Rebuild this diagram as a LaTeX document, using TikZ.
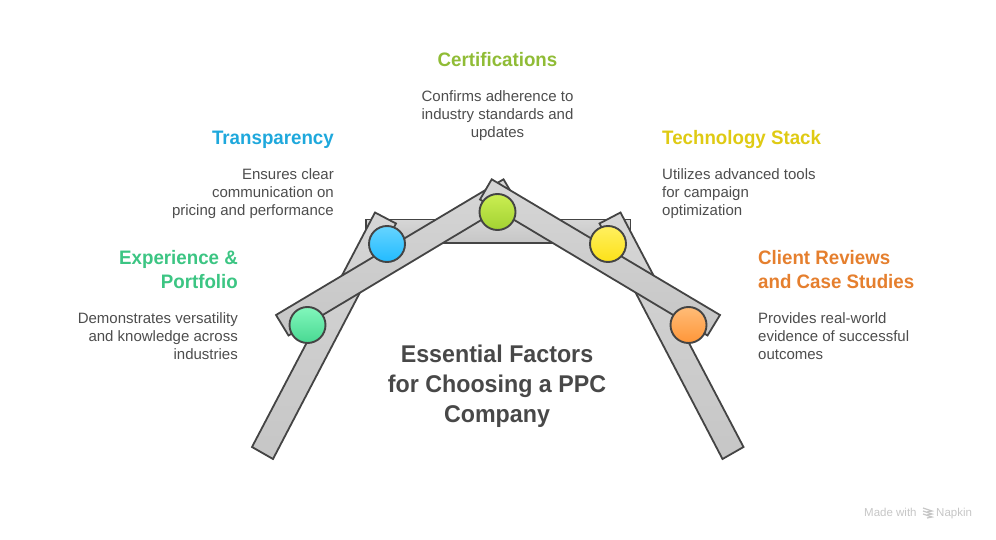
\documentclass[tikz,border=0pt]{standalone}
\usepackage{fontspec}
\setmainfont[BoldFeatures={FakeStretch=0.96}]{Liberation Sans}
\usepackage{tikz}
\usetikzlibrary{positioning}
\definecolor{edgegray}{HTML}{444444}
\definecolor{bartop}{HTML}{D6D6D6}
\definecolor{barbottom}{HTML}{C6C6C6}
\definecolor{bodygray}{HTML}{4D4D4D}
\definecolor{titlegray}{HTML}{484848}
\definecolor{markgray}{HTML}{C6C6C6}
\definecolor{expgreen}{HTML}{3CC583}
\definecolor{transblue}{HTML}{1EA8DC}
\definecolor{certlime}{HTML}{90BC36}
\definecolor{techyellow}{HTML}{DFCA13}
\definecolor{clientorange}{HTML}{E57F2E}
\tikzset{
  bar/.style={draw=edgegray, line width=1.8pt, line join=miter, top color=bartop, bottom color=barbottom},
  ball/.style 2 args={circle, draw=edgegray, line width=1.9pt, minimum size=36pt, inner sep=0pt, top color=#1, bottom color=#2},
  head/.style={inner sep=0pt, font=\fontsize{19.5}{24}\bfseries\selectfont},
  desc/.style={inner sep=0pt, text=bodygray, font=\fontsize{15}{18}\selectfont},
  madeby/.style={inner sep=0pt, text=markgray, font=\fontsize{11.5}{13}\selectfont}
}
\definecolor{expa}{HTML}{82F7BC}
\definecolor{expb}{HTML}{48D892}
\definecolor{transa}{HTML}{66D4FF}
\definecolor{transb}{HTML}{22BBFF}
\definecolor{certa}{HTML}{CBEE52}
\definecolor{certb}{HTML}{A2D232}
\definecolor{techa}{HTML}{FFF060}
\definecolor{techb}{HTML}{FDE118}
\definecolor{clienta}{HTML}{FFBC78}
\definecolor{clientb}{HTML}{FF9638}
\begin{document}
\begin{tikzpicture}[x=1pt, y=-1pt]
  \useasboundingbox (0,0) rectangle (996,540);

  % frame behind the arms
  \draw[bar] (366,219.5) rectangle (630.5,242.7);
  \draw[bar] (252,447) -- (273,459) -- (396,223.5) -- (375,212.5) -- cycle; %
  \draw[bar] (743.5,447) -- (722.5,459) -- (599.5,223.5) -- (620.5,212.5) -- cycle; %
  \draw[bar] (276,315) -- (503.5,179.3) -- (515.5,199.5) -- (288.5,335.5) -- cycle; %
  \draw[bar] (720,315) -- (491.7,179.3) -- (480,199.5) -- (707.5,335.5) -- cycle; %

  \node[ball={expa}{expb}] (expball)    at (307.5,325) {}; %
  \node[ball={transa}{transb}] (transball)  at (387,244)   {}; %
  \node[ball={certa}{certb}] (certball)   at (497.5,212) {}; %
  \node[ball={techa}{techb}] (techball)   at (608,244)   {}; %
  \node[ball={clienta}{clientb}] (clientball) at (688.5,325) {}; %

  \node[head, text=certlime] (certhead) at (497.5,60) {Certifications}; %
  \node[desc, align=center, below=30.5pt of certhead.center, anchor=north] (certdesc) {Confirms adherence to\\ industry standards and\\ updates};

  \node[head, text=transblue, anchor=east] (transhead) at (334,140) {Transparency}; %
  \node[desc, align=right, below=28.5pt of transhead.east, anchor=north east] (transdesc) {Ensures clear\\ communication on\\ pricing and performance};

  \node[head, text=techyellow, anchor=west] (techhead) at (662,140) {Technology Stack}; %
  \node[desc, align=left, below=28.5pt of techhead.west, anchor=north west] (techdesc) {Utilizes advanced tools\\ for campaign\\ optimization};

  \node[head, text=expgreen, align=right, anchor=east] (exphead) at (238,270) {Experience \&\\ Portfolio}; %
  \node[desc, align=right, below=42.5pt of exphead.east, anchor=north east] (expdesc) {Demonstrates versatility\\ and knowledge across\\ industries};

  \node[head, text=clientorange, align=left, anchor=west] (clienthead) at (758,270) {Client Reviews\\ and Case Studies}; %
  \node[desc, align=left, below=42.5pt of clienthead.west, anchor=north west] (clientdesc) {Provides real-world\\ evidence of successful\\ outcomes};

  \node[inner sep=0pt, text=titlegray, align=center, font=\fontsize{24.2}{30}\bfseries\selectfont] (title) at (497,386) {Essential Factors\\ for Choosing a PPC\\ Company};

  % maker's mark
  \node[madeby, anchor=base west] (made) at (864,516) {Made with};
  \node[madeby, anchor=base west] (napkin) at (936,516) {Napkin};
  \foreach \y in {508,511,514}
    \draw[markgray, line width=1.2pt] (923,\y) -- (932,\y+3) -- (927,\y+4);
\end{tikzpicture}
\end{document}
